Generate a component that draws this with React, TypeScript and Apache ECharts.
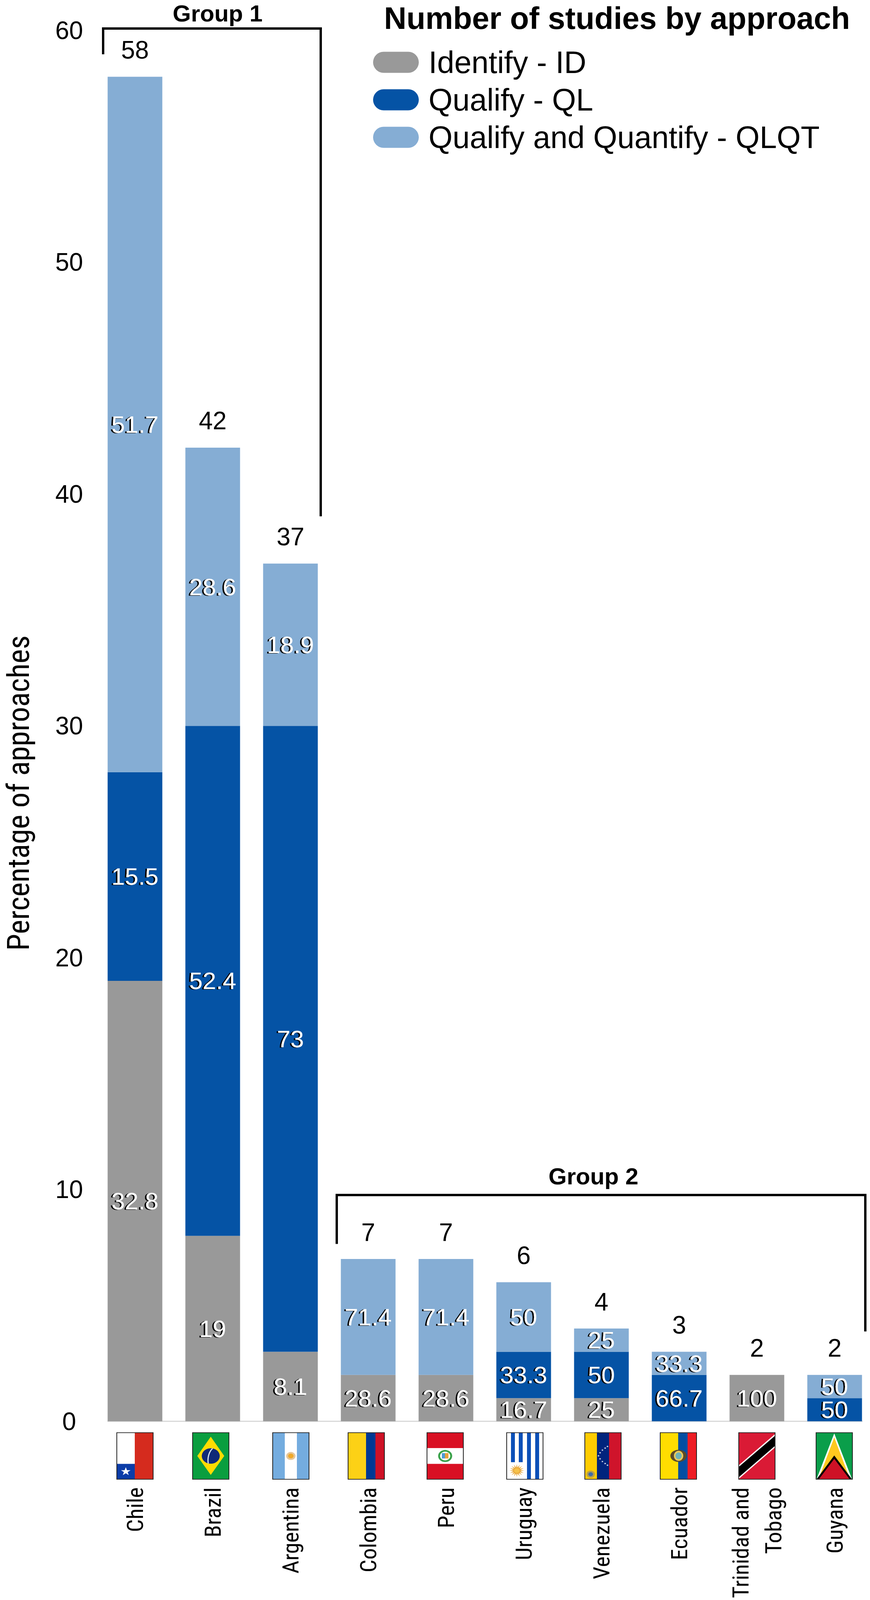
import React, { useEffect, useRef } from 'react';
import * as echarts from 'echarts';

const countries = ['Chile', 'Brazil', 'Argentina', 'Colombia', 'Peru', 'Uruguay', 'Venezuela', 'Ecuador', 'Trinidad and\nTobago', 'Guyana'];

// bar heights, number of studies
const identifyCounts = [19, 8, 3, 2, 2, 1, 1, 0, 2, 0];
const qualifyCounts = [9, 22, 27, 0, 0, 2, 2, 2, 0, 1];
const quantifyCounts = [30, 12, 7, 5, 5, 3, 1, 1, 0, 1];
const totals = [58, 42, 37, 7, 7, 6, 4, 3, 2, 2];

// percentages printed inside the bars
const identifyPct = ['32.8', '19', '8.1', '28.6', '28.6', '16.7', '25', '', '100', ''];
const qualifyPct = ['15.5', '52.4', '73', '', '', '33.3', '50', '66.7', '', '50'];
const quantifyPct = ['51.7', '28.6', '18.9', '71.4', '71.4', '50', '25', '33.3', '', '50'];

const FONT = '"Liberation Sans", Arial, sans-serif';
const NARROW = '"Roboto Condensed", "Liberation Sans", sans-serif';
const GREY = '#999999';
const BLUE = '#0553A5';
const LIGHT = '#85ADD4';

// the browser window can be shorter than the reference, so y positions measured
// on the 4772px reference are scaled to the height that is really there
const PAGE_H = window.innerHeight || 4772;
const KY = PAGE_H / 4772;
const sy = (y: number) => y * KY;

const FLAG_W = 93;
const FLAG_H = 139;
const flagLeft = [299, 493, 698, 891, 1093, 1297, 1497, 1690, 1891, 2089];

const rect = (x: number, y: number, width: number, height: number, fill: string) => ({
  type: 'rect',
  shape: { x, y, width, height },
  style: { fill },
});
const poly = (points: number[][], fill: string) => ({ type: 'polygon', shape: { points }, style: { fill } });
const dot = (cx: number, cy: number, r: number, fill: string) => ({ type: 'circle', shape: { cx, cy, r }, style: { fill } });

// spiky polygon, used for the stars and the suns on the flags
const star = (cx: number, cy: number, r: number, inner: number, spikes: number, fill: string) => {
  const points: number[][] = [];
  for (let i = 0; i < spikes * 2; i++) {
    const a = -Math.PI / 2 + (i * Math.PI) / spikes;
    const d = i % 2 === 0 ? r : inner;
    points.push([cx + d * Math.cos(a), cy + d * Math.sin(a)]);
  }
  return poly(points, fill);
};

const flagParts: any[][] = [
  // Chile
  [
    rect(0, 0, 46, 93, '#FFFFFF'),
    rect(0, 93, 46, 46, '#0B3CA8'),
    rect(46, 0, 47, 139, '#D52B1E'),
    star(23, 116, 13, 5, 5, '#FFFFFF'),
  ],
  // Brazil
  [
    rect(0, 0, FLAG_W, FLAG_H, '#0A9E3F'),
    poly([[46.5, 12], [81, 69.5], [46.5, 126], [12, 69.5]], '#FFDC00'),
    dot(46.5, 69.5, 23, '#0F2A78'),
    {
      type: 'bezierCurve',
      shape: { x1: 51, y1: 47, x2: 40, y2: 92, cpx1: 41, cpy1: 58, cpx2: 38, cpy2: 76 },
      style: { stroke: '#D8E4EE', fill: 'none', lineWidth: 3 },
    },
  ],
  // Argentina
  [
    rect(0, 0, 31, FLAG_H, '#74ACDF'),
    rect(31, 0, 31, FLAG_H, '#FFFFFF'),
    rect(62, 0, 31, FLAG_H, '#74ACDF'),
    dot(46.5, 69.5, 12, '#E6C79A'),
    dot(46.5, 69.5, 7, '#EFA92A'),
  ],
  // Colombia
  [rect(0, 0, 46, FLAG_H, '#FCD116'), rect(46, 0, 24, FLAG_H, '#003893'), rect(70, 0, 23, FLAG_H, '#CE1126')],
  // Peru
  [
    rect(0, 0, FLAG_W, 46, '#D91023'),
    rect(0, 46, FLAG_W, 47, '#FFFFFF'),
    rect(0, 93, FLAG_W, 46, '#D91023'),
    dot(46.5, 69.5, 18, '#3BA24B'),
    dot(46.5, 69.5, 13, '#FFFFFF'),
    rect(38, 61, 8, 16, '#4D9BD5'),
    rect(46, 61, 9, 16, '#E8A33A'),
  ],
  // Uruguay
  [
    rect(0, 0, FLAG_W, FLAG_H, '#FFFFFF'),
    rect(11, 0, 10, 88, '#0C50B8'),
    rect(31, 0, 10, 88, '#0C50B8'),
    rect(52, 0, 10, 139, '#0C50B8'),
    rect(73, 0, 10, 139, '#0C50B8'),
    star(26, 113, 19, 9, 16, '#E9A93B'),
    dot(26, 113, 7, '#F6C24A'),
  ],
  // Venezuela
  [
    rect(0, 0, 31, FLAG_H, '#FFCC00'),
    rect(31, 0, 31, FLAG_H, '#00247D'),
    rect(62, 0, 31, FLAG_H, '#CF142B'),
    ...[[58, 41], [52, 46], [45, 52], [39, 60], [35, 69], [39, 78], [45, 86], [52, 92], [58, 97]].map(([x, y]) => star(x, y, 3, 1.2, 5, '#FFFFFF')),
    dot(15, 124, 11, '#B8A04A'),
    dot(15, 124, 6, '#3E6CA8'),
  ],
  // Ecuador
  [
    rect(0, 0, 46, FLAG_H, '#FFDD00'),
    rect(46, 0, 24, FLAG_H, '#034EA2'),
    rect(70, 0, 23, FLAG_H, '#ED1C24'),
    { type: 'ellipse', shape: { cx: 47, cy: 69, rx: 21, ry: 18 }, style: { fill: '#5A4A2A' } },
    { type: 'ellipse', shape: { cx: 47, cy: 69, rx: 12, ry: 15 }, style: { fill: '#E9C95A' } },
    { type: 'ellipse', shape: { cx: 47, cy: 69, rx: 8, ry: 10 }, style: { fill: '#6FB3B8' } },
  ],
  // Trinidad and Tobago
  [
    rect(0, 0, FLAG_W, FLAG_H, '#DA1A35'),
    poly([[0, 97], [93, 4], [93, 44], [0, 138]], '#FFFFFF'),
    poly([[0, 102], [93, 9], [93, 39], [0, 133]], '#000000'),
  ],
  // Guyana
  [
    rect(0, 0, FLAG_W, FLAG_H, '#0A9E4A'),
    poly([[46.5, 2], [1, 139], [92, 139]], '#FFFFFF'),
    poly([[46.5, 14], [6, 139], [87, 139]], '#FFC91F'),
    poly([[46.5, 68], [1, 139], [92, 139]], '#000000'),
    poly([[46.5, 78], [7, 139], [86, 139]], '#CE1126'),
  ],
];

const flags = flagParts.map((children, i) => ({
  type: 'group',
  x: flagLeft[i],
  y: sy(4273),
  scaleY: KY,
  children: [
    ...children,
    { type: 'rect', shape: { x: 0, y: 0, width: FLAG_W, height: FLAG_H }, style: { fill: 'none', stroke: '#222222', lineWidth: 2 } },
  ],
}));

const bracket = (points: number[][]) => ({
  type: 'polyline',
  shape: { points: points.map(([x, y]) => [x, sy(y)]) },
  style: { stroke: '#000000', lineWidth: 6, fill: 'none' },
});

const groupLabel = (text: string, x: number, y: number) => ({
  type: 'text',
  x,
  y: sy(y),
  style: { text, fill: '#000000', font: `bold 60px ${FONT}`, align: 'center', verticalAlign: 'middle' },
});

const pctLabel = (values: string[]) => ({
  show: true,
  position: 'inside' as const,
  fontFamily: FONT,
  fontSize: 62,
  color: '#FFFFFF',
  textShadowColor: '#000000',
  textShadowOffsetX: -4,
  textShadowOffsetY: 1,
  textShadowBlur: 1,
  formatter: (p: any) => values[p.dataIndex],
});

const App: React.FC = () => {
  const chartRef = useRef<HTMLDivElement>(null);

  useEffect(() => {
    document.body.style.margin = '0';
    if (!chartRef.current) return;
    const chart = echarts.init(chartRef.current, undefined, { renderer: 'svg' });

    const series = [
      { name: 'Identify - ID', data: identifyCounts, color: GREY, pct: identifyPct },
      { name: 'Qualify - QL', data: qualifyCounts, color: BLUE, pct: qualifyPct },
      { name: 'Qualify and Quantify - QLQT', data: quantifyCounts, color: LIGHT, pct: quantifyPct },
    ].map((s) => ({
      name: s.name,
      type: 'bar',
      stack: 'studies',
      data: s.data,
      barWidth: 140,
      itemStyle: { color: s.color },
      label: pctLabel(s.pct),
    }));

    chart.setOption({
      animation: false,
      backgroundColor: '#FFFFFF',
      title: {
        text: 'Number of studies by approach',
        left: 983,
        top: sy(7),
        padding: 0,
        textStyle: { fontFamily: FONT, fontSize: 79.5, fontWeight: 'bold', color: '#000000' },
      },
      legend: {
        orient: 'vertical',
        left: 950,
        top: sy(134),
        itemGap: 17,
        itemWidth: 117,
        itemHeight: 54,
        icon: 'path://M27 0H90A27 27 0 0 1 90 54H27A27 27 0 0 1 27 0Z',
        data: series.map((s) => s.name),
        textStyle: { fontFamily: FONT, fontSize: 79, color: '#000000', padding: [0, 0, 0, 20] },
      },
      grid: { left: 246, width: 1990, top: sy(90.6), height: sy(4148.4), containLabel: false, outerBoundsMode: 'none' },
      xAxis: {
        type: 'category',
        data: countries,
        axisLine: { show: false },
        axisTick: { show: false },
        axisLabel: {
          interval: 0,
          rotate: 90,
          margin: sy(197),
          fontFamily: NARROW,
          fontSize: 58,
          lineHeight: 84,
          color: '#000000',
        },
      },
      yAxis: {
        type: 'value',
        min: 0,
        max: 60,
        interval: 10,
        name: 'Percentage of approaches',
        nameLocation: 'middle',
        nameGap: 160,
        nameRotate: 90,
        nameTextStyle: { fontFamily: NARROW, fontSize: 78, color: '#000000', padding: [0, 344, 0, 0] },
        axisLine: { show: false },
        axisTick: { show: false },
        splitLine: { show: false },
        axisLabel: { align: 'center', margin: 69, fontFamily: FONT, fontSize: 64, color: '#000000' },
      },
      series: [
        ...series,
        {
          // carries the totals above the stacks
          name: 'Total',
          type: 'scatter',
          data: totals,
          symbolSize: 1,
          itemStyle: { color: 'transparent' },
          label: {
            show: true,
            position: 'top',
            distance: 36,
            fontFamily: FONT,
            fontSize: 64,
            color: '#000000',
            opacity: 1,
          },
        },
      ],
      graphic: [
        {
          type: 'line',
          shape: { x1: 275, y1: sy(4239), x2: 2208, y2: sy(4239) },
          style: { stroke: '#D9D9D9', lineWidth: 3 },
        },
        bracket([[264, 162], [264, 85], [821, 85], [821, 1540]]),
        bracket([[862, 3710], [862, 3564], [2215, 3564], [2215, 3971]]),
        groupLabel('Group 1', 557, 40),
        groupLabel('Group 2', 1519, 3509),
        ...flags,
      ],
    });

    return () => {
      chart.dispose();
    };
  }, []);

  return <div ref={chartRef} style={{ width: 2227, height: PAGE_H, overflow: 'hidden' }} />;
};

export default App;
